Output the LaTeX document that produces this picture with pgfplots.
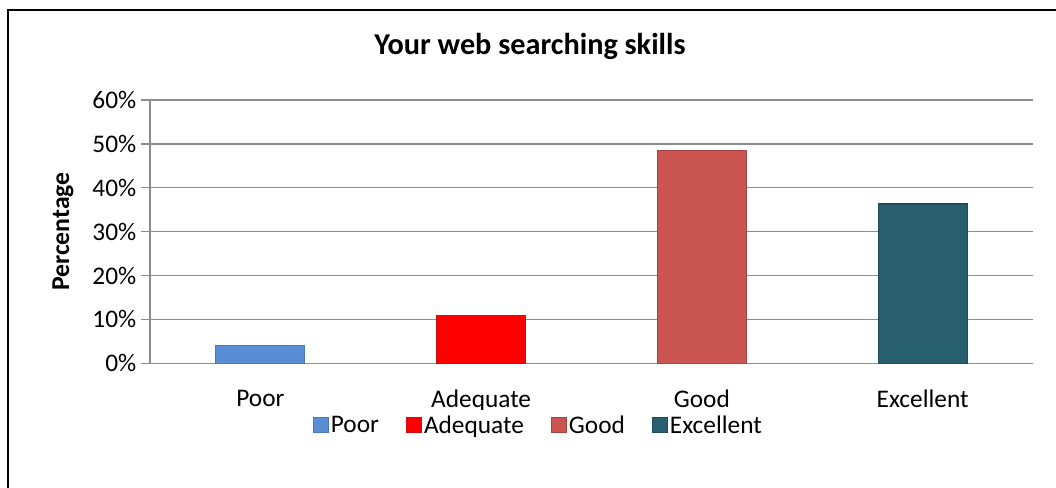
\documentclass[border=0pt]{standalone}
\usepackage{pgfplots}
\pgfplotsset{compat=1.18}
\usepackage{fontspec}
\setmainfont{Carlito}
\definecolor{poorc}{HTML}{5A8ED4}
\definecolor{poord}{HTML}{4A78B8}
\definecolor{adeqc}{HTML}{FF0000}
\definecolor{adeqd}{HTML}{C81010}
\definecolor{goodc}{HTML}{CB5551}
\definecolor{goodd}{HTML}{A84440}
\definecolor{excc}{HTML}{275F6F}
\definecolor{excd}{HTML}{1E4C59}
\definecolor{gridc}{HTML}{8C8C8C}
\begin{document}
\begin{tikzpicture}[x=0.75pt,y=0.75pt]
\useasboundingbox (0,0) rectangle (1056,488);
\draw[line width=1.5pt] (8,0) -- (8,478) -- (1056,478);
\begin{axis}[
  at={(112.5pt,93.5pt)}, anchor=south west, scale only axis,
  width=662.25pt, height=197.55pt,
  xmin=-0.5, xmax=3.5, ymin=0, ymax=60,
  axis line style={draw=gridc, line width=1.1pt},
  axis x line*=bottom, axis y line*=left,
  ytick={0,10,...,60},
  yticklabel={\pgfmathprintnumber{\tick}\%\hspace{10pt}},
  xtick={0,1,2,3}, xticklabels={Poor,Adequate,Good,Excellent},
  x tick style={draw=none},
  y tick style={draw=gridc, line width=1.1pt},
  tick align=outside, major tick length=6.75pt,
  ymajorgrids, grid style={draw=gridc, line width=1.1pt},
  tick label style={font=\fontsize{19}{23}\selectfont},
  /pgf/number format/assume math mode=true,
  xticklabel shift=10pt,
  ylabel={Percentage},
  ylabel style={font=\fontsize{19.3}{23}\selectfont\bfseries, at={(axis description cs:-0.0985,0.5)}, anchor=center, rotate=0},
  title={Your web searching skills},
  title style={font=\fontsize{22.7}{27}\selectfont\bfseries, at={(axis description cs:0.4303,1.174)}, anchor=center},
  legend style={draw=none, at={(axis description cs:0.44,-0.235)}, anchor=center,
    font=\fontsize{19}{23}\selectfont, legend columns=-1,
    /tikz/every even column/.append style={column sep=18pt}},
  ybar, bar width=66.75pt, bar shift=0pt,
  legend image code/.code={\draw[#1, line width=0.5pt] (0pt,-5.6pt) rectangle (11.25pt,5.6pt);},
]
\addplot[fill=poorc, draw=poord, line width=0.8pt] coordinates {(0,4)};
\addlegendentry{Poor}
\addplot[fill=adeqc, draw=adeqd, line width=0.8pt] coordinates {(1,10.8)};
\addlegendentry{Adequate}
\addplot[fill=goodc, draw=goodd, line width=0.8pt] coordinates {(2,48.4)};
\addlegendentry{Good}
\addplot[fill=excc, draw=excd, line width=0.8pt] coordinates {(3,36.3)};
\addlegendentry{Excellent}
\end{axis}
\end{tikzpicture}
\end{document}
